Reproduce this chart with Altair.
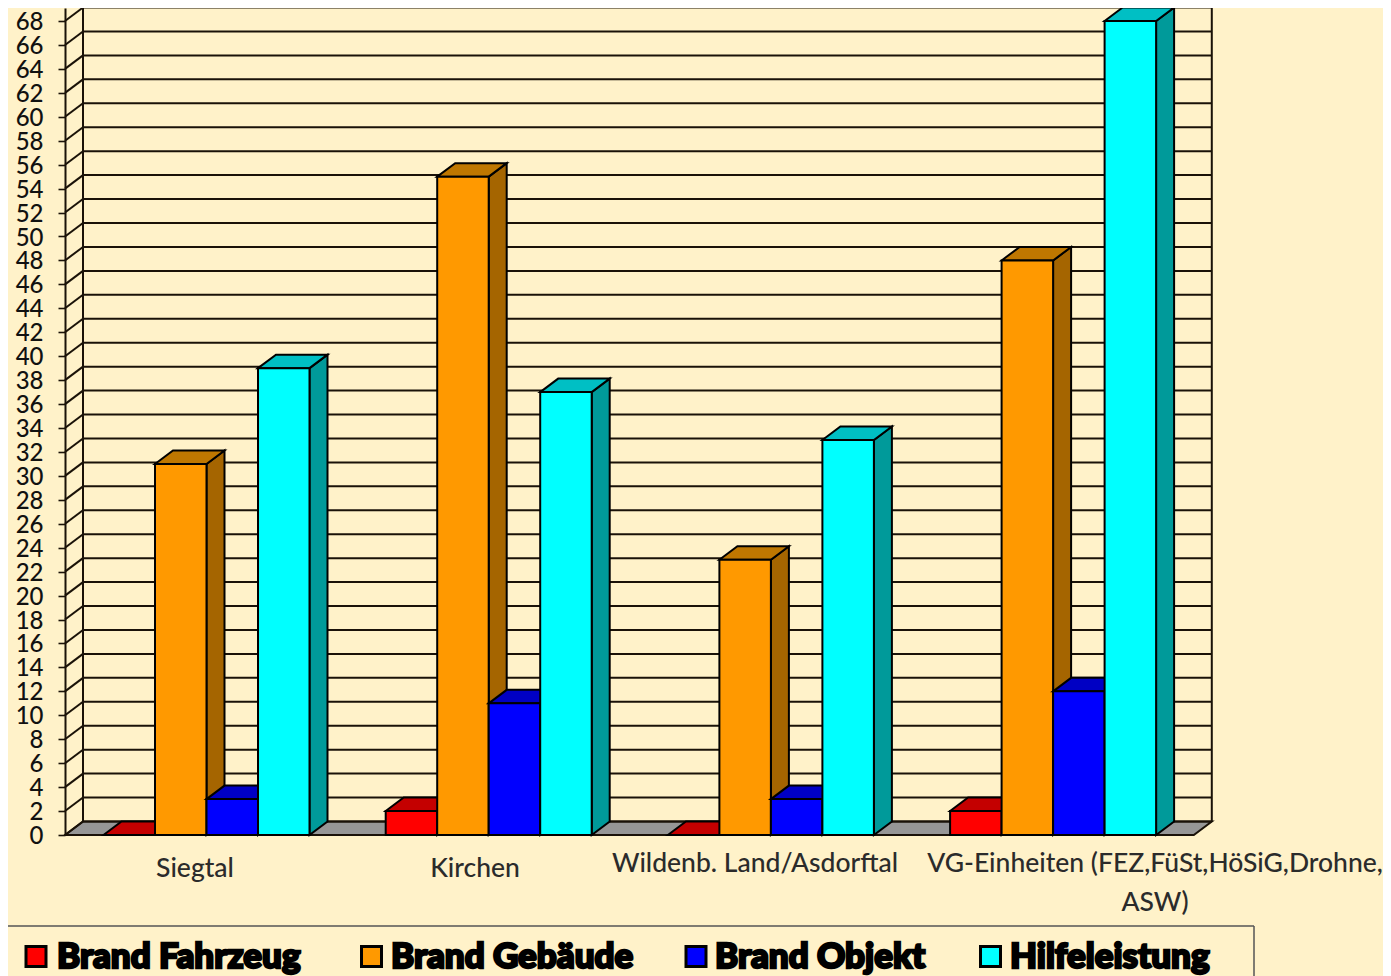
import altair as alt
import pandas as pd

# ---- data ----
categories = ["Siegtal", "Kirchen", "Wildenb. Land/Asdorftal", "VG-Einheiten"]
series = ["Brand Fahrzeug", "Brand Gebäude", "Brand Objekt", "Hilfeleistung"]
fahrzeug = [0, 2, 0, 2]
gebaeude = [31, 55, 23, 48]
objekt = [3, 11, 3, 12]
hilfe = [39, 37, 33, 68]
values = [fahrzeug, gebaeude, objekt, hilfe]
front_colors = ["#ff0000", "#ff9900", "#0000ff", "#00ffff"]
top_colors = ["#c40000", "#bf7700", "#0000c4", "#00bfc4"]
side_colors = ["#990000", "#a56500", "#000099", "#009a9a"]
tick_values = list(range(0, 69, 2))
label_lines = ["Siegtal", "Kirchen", "Wildenb. Land/Asdorftal",
               "VG-Einheiten (FEZ,FüSt,HöSiG,Drohne,", "ASW)"]

# ---- layout ----
PX_X = 282.2          # px per group
PX_Y = 11.97          # px per value unit
PLOT_L, PLOT_B, PLOT_T = 65, 835, 8   # page coordinates
W = 1383 - PLOT_L
H = PLOT_B - PLOT_T
def X(px):            # page px -> x data
    return (px - PLOT_L) / PX_X
def Y(py):            # page py -> y data
    return (PLOT_B - py) / PX_Y
DX = 18 / PX_X
DY = 13.5 / PX_Y
BW = 51.5 / PX_X
GAP = 38.5 / PX_X
YMAX = 68
XEND = 4.0

xs = alt.Scale(domain=[0, W / PX_X], range=[0, W], nice=False, zero=False)
ys = alt.Scale(domain=[0, H / PX_Y], range=[H, 0], nice=False, zero=False)
LINE = "#1a1208"
SW = 2
FONT = "Lato"
BG = "#fff2c9"

y_axis = alt.Axis(
    values=tick_values, tickSize=7, tickWidth=1.6, tickColor=LINE, domainColor=LINE,
    domainWidth=2, labelFont=FONT, labelFontSize=24, labelFontWeight=500, labelColor="#111111",
    labelPadding=15, labelOffset=1.5, labelOverlap=False, labelFlush=False, grid=False, format="d", title=None)

def X_(f="x"):
    return alt.X(f"{f}:Q", scale=xs, axis=None)
def Y_(f="y"):
    return alt.Y(f"{f}:Q", scale=ys, axis=y_axis)

layers = []

# floor
floor = pd.DataFrame([
    dict(x=0, y=0, y2=0),
    dict(x=DX, y=DY, y2=0),
    dict(x=XEND, y=DY, y2=0),
    dict(x=XEND + DX, y=DY, y2=DY),
])
layers.append(alt.Chart(floor).mark_area(color="#969696", stroke=LINE, strokeWidth=SW, opacity=1).encode(
    x=X_(), y=Y_(), y2="y2:Q"))

# wall: back grid lines, diagonals and verticals
grid = pd.DataFrame([dict(x=DX, x2=XEND + DX, y=v + DY) for v in tick_values])
layers.append(alt.Chart(grid).mark_rule(color=LINE, strokeWidth=SW).encode(x=X_(), x2="x2:Q", y=Y_()))
diag = pd.DataFrame([dict(x=px, y=v + (DY if px else 0), k=v) for v in tick_values for px in (0, DX)])
layers.append(alt.Chart(diag).mark_line(color=LINE, strokeWidth=SW).encode(x=X_(), y=Y_(), detail="k:N"))
vert = pd.DataFrame([dict(x=DX, y=DY, y2=YMAX + DY), dict(x=XEND + DX, y=DY, y2=YMAX + DY)])
layers.append(alt.Chart(vert).mark_rule(color=LINE, strokeWidth=SW).encode(x=X_(), y=Y_(), y2="y2:Q"))

# bars, painted back-to-front from left to right
for s, name in enumerate(series):
    fronts, sides, tops = [], [], []
    for g, cat in enumerate(categories):
        v = values[s][g]
        x0 = g + GAP + s * BW
        x1 = x0 + BW
        fronts.append(dict(x=x0, x2=x1, y=0, y2=v, series=name, category=cat))
        sides += [dict(x=x1, y=v, y2=0, g=g), dict(x=x1 + DX, y=v + DY, y2=DY, g=g)]
        tops += [dict(x=x0, y=v, y2=v, g=g),
                 dict(x=x0 + DX, y=v + DY, y2=v, g=g),
                 dict(x=x1, y=v + DY, y2=v, g=g),
                 dict(x=x1 + DX, y=v + DY, y2=v + DY, g=g)]
    layers.append(alt.Chart(pd.DataFrame(sides)).mark_area(
        color=side_colors[s], stroke="#000000", strokeWidth=SW, opacity=1).encode(
        x=X_(), y=Y_(), y2="y2:Q", detail="g:N"))
    layers.append(alt.Chart(pd.DataFrame(tops)).mark_area(
        color=top_colors[s], stroke="#000000", strokeWidth=SW, opacity=1).encode(
        x=X_(), y=Y_(), y2="y2:Q", detail="g:N"))
    layers.append(alt.Chart(pd.DataFrame(fronts)).mark_rect(
        color=front_colors[s], stroke="#000000", strokeWidth=SW, opacity=1).encode(
        x=X_(), x2="x2:Q", y=Y_(), y2="y2:Q"))

# category labels
lab = pd.DataFrame({
    "t": label_lines,
    "x": [X(195), X(475), X(755), X(1155), X(1155)],
    "y": [Y(868.5), Y(868.5), Y(863.5), Y(863.5), Y(902.5)],
})
layers.append(alt.Chart(lab).mark_text(font=FONT, fontSize=26.5, fontWeight=500, color="#2b2b2b", align="center", baseline="middle").encode(
    x=X_(), y=Y_(), text="t:N"))

# legend frame
frame_h = pd.DataFrame({"x": [X(8)], "x2": [X(1254)], "y": [Y(926)]})
layers.append(alt.Chart(frame_h).mark_rule(color="#555555", strokeWidth=1.5).encode(x=X_(), x2="x2:Q", y=Y_()))
frame_v = pd.DataFrame({"x": [X(1254)], "y": [Y(926)], "y2": [Y(976)]})
layers.append(alt.Chart(frame_v).mark_rule(color="#555555", strokeWidth=1.5).encode(x=X_(), y=Y_(), y2="y2:Q"))

# legend entries
leg = pd.DataFrame({
    "series": series,
    "sx": [X(36), X(371.5), X(696), X(990.5)],
    "tx": [X(57), X(391), X(715), X(1010)],
    "y": [Y(956.5)] * 4,
    "ty": [Y(957)] * 4,
    "c": front_colors,
})
layers.append(alt.Chart(leg).mark_square(size=400, stroke="#000000", strokeWidth=3, opacity=1, fillOpacity=1).encode(
    x=X_("sx"), y=Y_(), fill=alt.Color("c:N", scale=None)))
layers.append(alt.Chart(leg).mark_text(font=FONT, fontSize=35, fontWeight=900, color="#000000",
                                       stroke="#000000", strokeWidth=2.4, align="left", baseline="middle").encode(
    x=X_("tx"), y=Y_("ty"), text="series:N"))

chart = alt.layer(*layers).resolve_scale(x="shared", y="shared").properties(
    width=W, height=H, background=BG,
    padding={"left": PLOT_L - 8, "top": PLOT_T - 8, "right": 0, "bottom": 976 - PLOT_B},
    autosize=alt.AutoSizeParams(type="none"),
).configure_view(stroke=None)

chart.save("out.html", embed_options={"renderer": "svg", "actions": False})
